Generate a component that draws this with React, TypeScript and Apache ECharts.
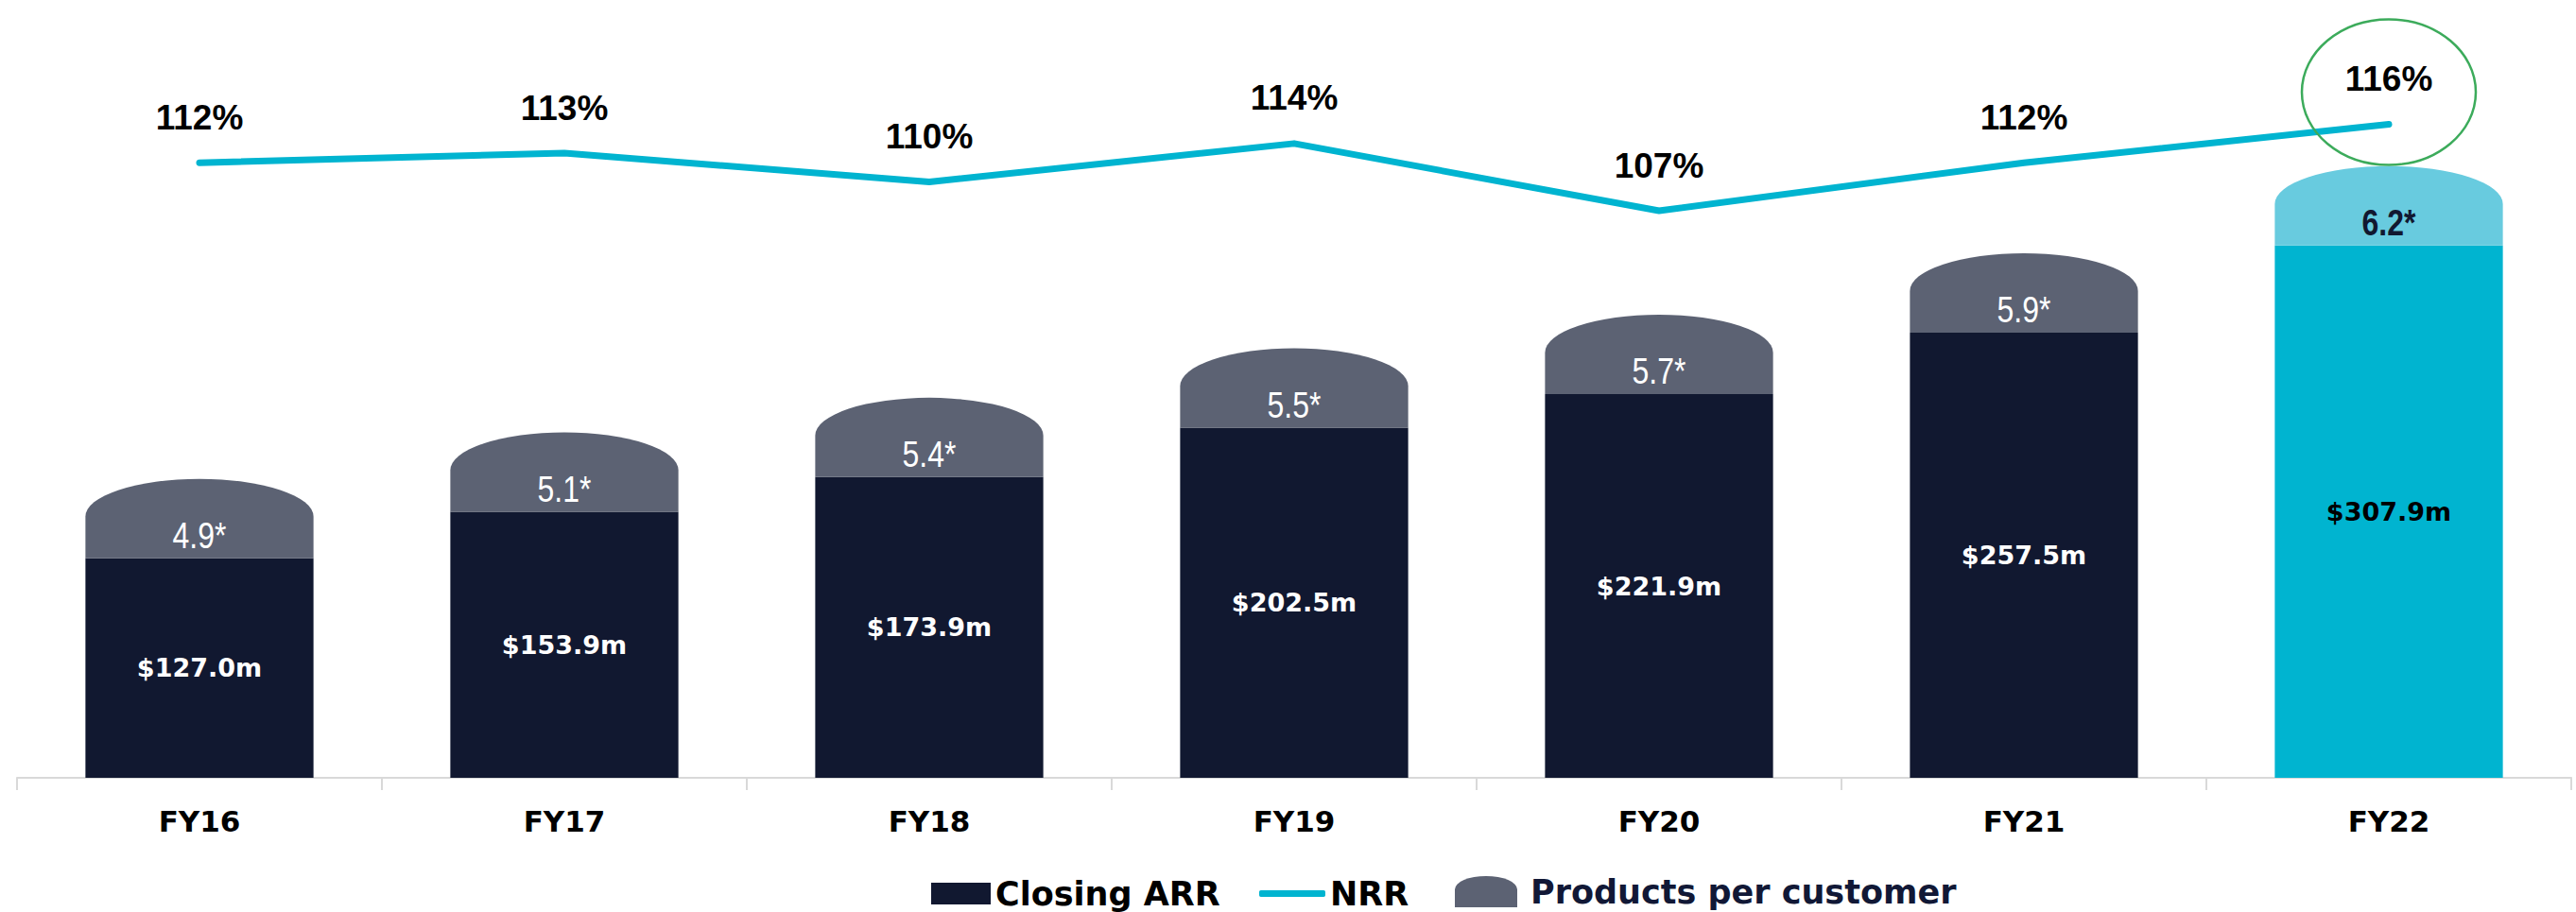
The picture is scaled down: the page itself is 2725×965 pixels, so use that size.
import React, { useEffect, useRef } from "react";
import * as echarts from "echarts";

const categories = ["FY16", "FY17", "FY18", "FY19", "FY20", "FY21", "FY22"];
const closingArr = [127.0, 153.9, 173.9, 202.5, 221.9, 257.5, 307.9];
const nrr = [112, 113, 110, 114, 107, 112, 116];
const productsPerCustomer = [4.9, 5.1, 5.4, 5.5, 5.7, 5.9, 6.2];
const highlightIndex = 6;

const NAVY = "#111830";
const CAP = "#5c6273";
const TEAL = "#00b4d0";
const TEAL_CAP = "#68cbdf";

export default function App() {
  const ref = useRef<HTMLDivElement>(null);
  useEffect(() => {
    if (!ref.current) return;
    const chart = echarts.init(ref.current, null, { renderer: "svg" });
    const capH = 84;
    const domeH = 40;
    const legendText = { fontFamily: "DejaVu Sans", fontWeight: "bold", fontSize: 35, color: "#000" };
    const option: any = {
      animation: false,
      backgroundColor: "#ffffff",
      grid: { left: 18, right: 5, top: 40, bottom: 965 - 823, containLabel: false },
      legend: [
        {
          data: ["Closing ARR"],
          left: 980,
          top: 923,
          icon: "rect",
          itemWidth: 63,
          itemHeight: 23,
          selectedMode: false,
          itemStyle: { color: NAVY },
          textStyle: legendText,
        },
        {
          data: ["NRR"],
          left: 1327,
          top: 923,
          icon: "roundRect",
          itemWidth: 70,
          itemHeight: 7,
          selectedMode: false,
          itemStyle: { color: TEAL },
          textStyle: legendText,
        },
        {
          data: ["Products per customer"],
          left: 1534,
          top: 921,
          itemWidth: 66,
          itemHeight: 33,
          selectedMode: false,
          icon: "path://M0,33 L0,14 A33,14 0 0 1 66,14 L66,33 Z",
          itemStyle: { color: CAP },
          textStyle: { ...legendText, color: "#111836", padding: [0, 0, 0, 9] },
        },
      ],
      xAxis: {
        type: "category",
        data: categories,
        boundaryGap: true,
        axisLine: { show: true, lineStyle: { color: "#d9d9d9", width: 2 } },
        axisTick: { show: true, length: 13, lineStyle: { color: "#d9d9d9", width: 2 } },
        axisLabel: {
          interval: 0,
          margin: 30,
          fontFamily: "DejaVu Sans",
          fontWeight: "bold",
          fontSize: 31,
          color: "#000",
        },
        splitLine: { show: false },
      },
      yAxis: [
        { type: "value", min: 0, max: 428, show: false, splitLine: { show: false } },
        { type: "value", min: 48, max: 125, show: false, splitLine: { show: false } },
      ],
      series: [
        {
          name: "Closing ARR",
          type: "bar",
          barWidth: "62.5%",
          itemStyle: { color: NAVY },
          z: 2,
          data: closingArr.map((v, i) =>
            i === highlightIndex
              ? { value: v, itemStyle: { color: TEAL }, label: { color: "#000" } }
              : v
          ),
          label: {
            show: true,
            position: "inside",
            formatter: (p: any) => "$" + Number(p.value).toFixed(1) + "m",
            fontFamily: "DejaVu Sans",
            fontWeight: "bold",
            fontSize: 27,
            color: "#fff",
          },
        },
        {
          name: "Products per customer",
          type: "custom",
          z: 3,
          itemStyle: { color: CAP },
          data: categories.map((c, i) => [i, closingArr[i], productsPerCustomer[i]]),
          encode: { x: 0, y: 1 },
          renderItem: (params: any, api: any) => {
            const i = api.value(0);
            const pt = api.coord([i, api.value(1)]);
            const w = api.size([1, 0])[0] * 0.625;
            const L = pt[0] - w / 2;
            const R = pt[0] + w / 2;
            const yB = pt[1];
            const yS = yB - (capH - domeH);
            const hl = i === highlightIndex;
            const d = `M${L},${yB} L${L},${yS} A${w / 2},${domeH} 0 0 1 ${R},${yS} L${R},${yB} Z`;
            return {
              type: "group",
              children: [
                { type: "path", shape: { pathData: d }, style: { fill: hl ? TEAL_CAP : CAP } },
                {
                  type: "text",
                  x: pt[0],
                  y: yB - 24,
                  scaleX: 0.82,
                  style: {
                    text: api.value(2).toFixed(1) + "*",
                    x: 0,
                    y: 0,
                    align: "center",
                    verticalAlign: "middle",
                    fill: hl ? NAVY : "#ffffff",
                    font: (hl ? "bold " : "") + "39px 'Liberation Sans', sans-serif",
                  },
                },
              ],
            };
          },
        },
        {
          name: "NRR",
          type: "line",
          yAxisIndex: 1,
          z: 4,
          symbol: "circle",
          symbolSize: 1,
          data: nrr,
          lineStyle: { width: 7, color: TEAL, cap: "round", join: "round" },
          itemStyle: { color: TEAL },
          label: {
            show: true,
            position: "top",
            distance: 29,
            formatter: "{c}%",
            fontFamily: "Liberation Sans",
            fontWeight: "bold",
            fontSize: 37,
            color: "#000",
          },
        },
        {
          name: "highlight",
          type: "custom",
          yAxisIndex: 1,
          z: 5,
          silent: true,
          data: [[highlightIndex, nrr[highlightIndex]]],
          encode: { x: 0, y: 1 },
          renderItem: (params: any, api: any) => {
            const pt = api.coord([api.value(0), api.value(1)]);
            return {
              type: "ellipse",
              shape: { cx: pt[0], cy: pt[1] - 34, rx: 92, ry: 77 },
              style: { fill: "none", stroke: "#3cab5b", lineWidth: 2.5 },
            };
          },
        },
      ],
    };
    chart.setOption(option);
    return () => chart.dispose();
  }, []);
  return (
    <div
      ref={ref}
      style={{ position: "absolute", left: 0, top: 0, width: 2725, height: 965 }}
    />
  );
}
